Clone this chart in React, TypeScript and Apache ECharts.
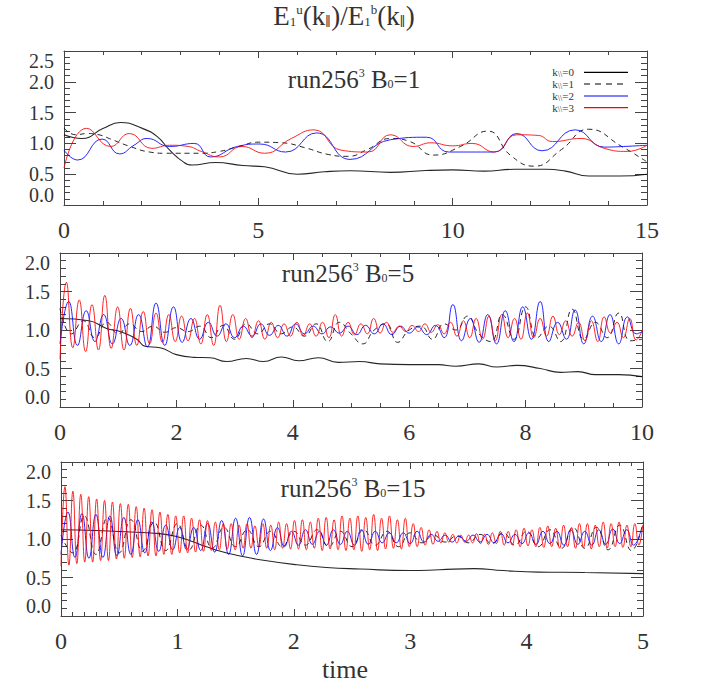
import React, { useEffect, useRef } from "react";
import * as echarts from "echarts";

const FONT = "'Liberation Serif', 'DejaVu Serif', serif";
const INK = "#333";

// ---------- Panel 1: run256^3 B0=1, time 0..15 ----------
const p1Solid: [number, number][] = [
  [0, 1.14], [0.46, 1.08], [1.0, 1.24], [1.45, 1.34], [2.03, 1.24], [2.4, 1.11], [2.72, 0.89],
  [3.07, 0.7], [3.3, 0.65], [3.9, 0.69], [4.6, 0.64], [5.16, 0.62], [6.0, 0.5], [6.7, 0.54],
  [7.36, 0.557], [8.4, 0.53], [9.3, 0.56], [10.0, 0.57], [10.8, 0.55], [11.6, 0.58], [12.4, 0.58],
  [12.9, 0.55], [13.5, 0.47], [14.3, 0.47], [15, 0.5],
];
const p1Dashed: [number, number][] = [
  [0, 1.25], [0.3, 1.14], [0.6, 1.16], [0.9, 1.14], [1.2, 1.07], [1.7, 0.95], [2.2, 0.86],
  [2.6, 0.84], [3.5, 0.84], [4.0, 0.87], [4.5, 0.95], [5.0, 1.02], [5.6, 1.01], [6.2, 0.93],
  [6.8, 0.82], [7.3, 0.79], [7.8, 0.9], [8.4, 1.08], [8.9, 1.03], [9.5, 0.81], [10.2, 0.95],
  [10.9, 1.2], [11.5, 0.8], [12.1, 0.63], [12.8, 0.9], [13.5, 1.23], [14.35, 0.95], [15, 0.7],
];
const p1Blue: [number, number][] = [
  [0, 0.89], [0.35, 0.73], [0.98, 1.07], [1.43, 0.83], [1.8, 0.97], [2.14, 1.08], [2.72, 0.95],
  [3.35, 1.0], [3.77, 0.78], [4.46, 0.95], [5.04, 0.99], [5.7, 0.86], [6.5, 1.17], [7.36, 0.74],
  [8.4, 1.06], [9.33, 1.1], [9.9, 0.86], [11.07, 0.86], [11.65, 1.16], [12.3, 0.88], [13.15, 1.22],
  [13.9, 0.94], [14.4, 0.95], [15, 0.97],
];
const p1Red: [number, number][] = [
  [0, 0.6], [0.58, 1.245], [1.2, 0.95], [1.68, 1.16], [2.26, 0.92], [2.72, 0.97], [3.2, 0.95],
  [3.53, 0.87], [4.0, 0.78], [4.58, 0.95], [5.16, 0.84], [5.85, 1.08], [6.43, 1.22], [7.13, 0.89],
  [7.82, 0.86], [8.4, 1.14], [8.98, 0.95], [9.44, 1.01], [10.0, 0.96], [10.5, 1.0], [11.07, 0.86],
  [11.65, 1.14], [12.2, 1.13], [12.57, 1.03], [13.3, 1.08], [13.9, 0.92], [14.5, 0.87], [15, 0.97],
];

// ---------- Panel 2: run256^3 B0=5, time 0..10 ----------
const p2Solid: [number, number][] = [
  [0, 1.15], [0.5, 1.12], [0.8, 1.02], [1.03, 0.98], [1.32, 0.88], [1.46, 0.79], [1.72, 0.77],
  [2.0, 0.68], [2.29, 0.645], [2.58, 0.64], [2.86, 0.59], [3.2, 0.63], [3.5, 0.59], [3.8, 0.65],
  [4.1, 0.6], [4.44, 0.64], [4.78, 0.58], [5.15, 0.59], [5.5, 0.56], [6.0, 0.55], [6.5, 0.55],
  [6.8, 0.53], [7.2, 0.56], [7.5, 0.52], [7.85, 0.54], [8.25, 0.5], [8.6, 0.45], [8.9, 0.46],
  [9.2, 0.42], [9.6, 0.42], [10, 0.395],
];
const p2DashedStep = 0.2;
const p2Dashed = [
  1.28, 0.95, 1.12, 0.9, 1.1, 0.95, 1.08, 0.98, 1.05, 0.97,
  1.03, 0.98, 1.05, 0.9, 1.06, 0.88, 1.08, 0.95, 1.08, 0.95,
  1.04, 0.92, 1.08, 0.85, 1.1, 0.95, 0.82, 1.0, 1.08, 0.84,
  1.0, 1.05, 0.88, 1.08, 1.0, 1.18, 0.95, 0.85, 1.2, 0.88,
  1.3, 0.9, 1.05, 0.85, 1.27, 0.88, 1.1, 0.9, 1.22, 0.86,
  0.88,
];
const p2BlueStep = 0.15;
const p2Blue = [
  0.82, 1.37, 0.8, 1.25, 0.85, 1.2,
  0.82, 1.15, 0.8, 1.2, 0.78, 1.35,
  0.8, 1.3, 0.84, 1.15, 0.88, 1.1,
  0.92, 1.08, 0.9, 1.05, 0.92, 1.08,
  0.93, 1.06, 0.92, 1.08, 0.95, 1.05,
  0.95, 1.04, 0.96, 1.05, 0.94, 1.06,
  0.95, 1.08, 0.94, 1.05, 0.96, 1.04,
  0.94, 1.06, 0.9, 1.33, 0.86, 1.15,
  0.84, 1.2, 0.82, 1.25, 0.85, 1.3,
  0.88, 1.37, 0.85, 1.1, 0.88, 1.26,
  0.82, 1.18, 0.85, 1.2, 0.82, 1.17,
  0.95, 1.0,
];
const p2RedStep = 0.11;
const p2Red = [
  0.62, 1.62, 0.77, 1.39, 0.72, 1.33,
  0.74, 1.45, 0.76, 1.3, 0.74, 1.28,
  0.8, 1.24, 0.82, 1.22, 0.84, 1.2,
  0.85, 1.18, 0.86, 1.15, 0.82, 1.2,
  0.8, 1.32, 0.85, 1.2, 0.88, 1.15,
  0.9, 1.12, 0.88, 1.1, 0.9, 1.08,
  0.92, 1.1, 0.93, 1.08, 0.92, 1.1,
  0.9, 1.2, 0.92, 1.1, 0.94, 1.08,
  0.95, 1.15, 0.96, 1.1, 0.97, 1.05,
  0.98, 1.06, 0.98, 1.08, 0.97, 1.07,
  0.95, 1.1, 0.92, 1.12, 0.9, 1.15,
  0.88, 1.18, 0.86, 1.2, 0.9, 1.15,
  0.88, 1.22, 0.9, 1.15, 0.92, 1.18,
  0.94, 1.12, 0.92, 1.1, 0.86, 1.12,
  0.85, 1.17, 0.96, 1.1, 0.9, 1.15,
  0.87, 1.0,
];

// ---------- Panel 3: run256^3 B0=15, time 0..5 ----------
const p3Solid: [number, number][] = [
  [0, 1.12], [0.3, 1.11], [0.6, 1.09], [0.85, 1.07], [1.0, 1.03], [1.14, 0.96], [1.25, 0.9],
  [1.37, 0.84], [1.54, 0.78], [1.71, 0.73], [2.0, 0.67], [2.28, 0.63], [2.57, 0.61], [3.0, 0.59],
  [3.25, 0.6], [3.55, 0.615], [3.8, 0.59], [4.1, 0.57], [4.5, 0.565], [5.0, 0.55],
];
const p3DashedStep = 0.1;
const p3Dashed = [
  1.05, 0.82, 1.3, 0.8, 1.28, 0.82, 1.25, 0.84, 1.22, 0.85,
  1.2, 0.86, 1.18, 0.88, 1.15, 0.9, 1.12, 0.9, 1.1, 0.9,
  1.1, 0.92, 1.12, 0.9, 1.1, 0.9, 1.12, 0.92, 1.1, 0.9,
  1.08, 0.95, 1.05, 0.96, 1.04, 0.95, 1.06, 0.94, 1.08, 0.92,
  1.1, 0.9, 1.12, 0.88, 1.15, 0.88, 1.15, 0.86, 1.18, 0.85,
  1.22,
];
const p3BlueStep = 0.06;
const p3Blue = [
  0.8, 1.35, 0.76, 1.33, 0.75, 1.32,
  0.76, 1.3, 0.78, 1.28, 0.8, 1.25,
  0.82, 1.22, 0.84, 1.18, 0.86, 1.15,
  0.86, 1.15, 0.85, 1.2, 0.83, 1.24,
  0.8, 1.27, 0.78, 1.28, 0.8, 1.26,
  0.85, 1.15, 0.9, 1.1, 0.92, 1.12,
  0.93, 1.1, 0.92, 1.12, 0.93, 1.1,
  0.92, 1.12, 0.93, 1.1, 0.95, 1.08,
  0.95, 1.08, 0.94, 1.1, 0.96, 1.06,
  0.97, 1.05, 0.96, 1.04, 0.97, 1.05,
  0.96, 1.06, 0.95, 1.07, 0.95, 1.06,
  0.94, 1.08, 0.93, 1.1, 0.94, 1.1,
  0.92, 1.12, 0.93, 1.1, 0.92, 1.12,
  0.93, 1.13, 0.94, 1.12, 0.92, 1.1,
];
const p3RedStep = 0.034;
const p3Red = [
  0.65, 1.68, 0.66, 1.62, 0.68, 1.58,
  0.7, 1.55, 0.7, 1.52, 0.72, 1.5,
  0.72, 1.48, 0.74, 1.46, 0.75, 1.45,
  0.76, 1.42, 0.77, 1.4, 0.78, 1.38,
  0.78, 1.35, 0.8, 1.32, 0.8, 1.3,
  0.82, 1.3, 0.82, 1.27, 0.83, 1.25,
  0.84, 1.24, 0.85, 1.22, 0.86, 1.2,
  0.87, 1.2, 0.86, 1.18, 0.88, 1.2,
  0.88, 1.17, 0.9, 1.2, 0.88, 1.18,
  0.86, 1.22, 0.88, 1.2, 0.87, 1.24,
  0.87, 1.25, 0.86, 1.22, 0.88, 1.27,
  0.85, 1.28, 0.87, 1.25, 0.86, 1.3,
  0.85, 1.27, 0.86, 1.3, 0.84, 1.28,
  0.86, 1.32, 0.85, 1.27, 0.87, 1.3,
  0.88, 1.25, 0.87, 1.27, 0.9, 1.2,
  0.9, 1.15, 0.92, 1.12, 0.93, 1.1,
  0.95, 1.08, 0.96, 1.06, 0.95, 1.05,
  0.96, 1.05, 0.95, 1.07, 0.94, 1.06,
  0.93, 1.08, 0.94, 1.1, 0.92, 1.1,
  0.92, 1.12, 0.9, 1.14, 0.91, 1.12,
  0.9, 1.15, 0.89, 1.17, 0.9, 1.14,
  0.88, 1.18, 0.9, 1.15, 0.88, 1.2,
  0.89, 1.2, 0.87, 1.18, 0.9, 1.22,
  0.88, 1.2, 0.9, 1.22, 0.89, 1.18,
  0.9, 1.2, 0.92, 1.18,
];

const legendLabels = ["0", "1", "2", "3"];
const seriesColors = ["#000000", "#000000", "#0000ff", "#ff0000"];
const panelNames = ["1", "5", "15"];
const xMax = [15, 10, 5];
const xInterval = [5, 2, 1];
const xMinorSplit = [5, 4, 10];
const yMax = [2.5, 2, 2];

const stepped = (vals: number[], step: number): [number, number][] =>
  vals.map((v, i) => [Math.round(i * step * 10000) / 10000, v]);

export default function App() {
  const ref = useRef<HTMLDivElement>(null);

  useEffect(() => {
    if (!ref.current) return;
    const chart = echarts.init(ref.current, undefined, { renderer: "svg" });

    const rects = [
      { left: 64, top: 51, width: 583, height: 154 },
      { left: 60, top: 253, width: 582, height: 154 },
      { left: 61, top: 462, width: 582, height: 154 },
    ];

    const panelData: [number, number][][][] = [
      [p1Solid, p1Dashed, p1Blue, p1Red],
      [p2Solid, stepped(p2Dashed, p2DashedStep), stepped(p2Blue, p2BlueStep), stepped(p2Red, p2RedStep)],
      [p3Solid, stepped(p3Dashed, p3DashedStep), stepped(p3Blue, p3BlueStep), stepped(p3Red, p3RedStep)],
    ];

    const tickColor = "#444";
    const X_MAJOR = 7;
    const X_MINOR = 4;
    const Y_MAJOR = 12;
    const Y_MINOR = 6;

    const grids: any[] = [];
    const xAxes: any[] = [];
    const yAxes: any[] = [];
    const mainX: number[] = [];
    const mainY: number[] = [];

    const xBase = (g: number, gi: number) => ({
      type: "value",
      gridIndex: gi,
      min: 0,
      max: xMax[g],
      interval: xInterval[g],
      splitLine: { show: false },
    });
    const yBase = (g: number, gi: number) => ({
      type: "value",
      gridIndex: gi,
      min: 0,
      max: yMax[g],
      interval: 0.5,
      splitLine: { show: false },
    });
    const hiddenAxis = (gi: number) => ({ type: "value", gridIndex: gi, show: false, min: 0, max: 1 });
    const yLabelStyle = {
      margin: 10,
      fontFamily: FONT,
      fontSize: 20,
      lineHeight: 20,
      color: INK,
    };
    const labelOnlyAxis = (g: number, gi: number, label: any) => ({
      ...yBase(g, gi),
      position: "left",
      axisLine: { show: false, onZero: false },
      axisTick: { show: false },
      minorTick: { show: false },
      axisLabel: { ...yLabelStyle, show: true, showMinLabel: true, showMaxLabel: true, ...label },
    });

    rects.forEach((r, g) => {
      // ----- main grid: frame + labels + data -----
      const gm = grids.length;
      grids.push({ ...r });
      ["bottom", "top"].forEach((pos) => {
        if (pos === "bottom") mainX[g] = xAxes.length;
        xAxes.push({
          ...xBase(g, gm),
          position: pos,
          axisLine: { show: true, onZero: false, lineStyle: { color: tickColor, width: 1 } },
          axisTick: { show: false },
          minorTick: { show: false },
          axisLabel: {
            show: pos === "bottom",
            margin: 13,
            fontFamily: FONT,
            fontSize: 24,
            color: INK,
            showMinLabel: true,
            showMaxLabel: true,
            formatter: (v: number) => String(v),
          },
        });
      });
      ["left", "right"].forEach((pos) => {
        if (pos === "left") mainY[g] = yAxes.length;
        yAxes.push({
          ...yBase(g, gm),
          position: pos,
          axisLine: { show: true, onZero: false, lineStyle: { color: tickColor, width: 1 } },
          axisTick: { show: false },
          minorTick: { show: false },
          axisLabel: {
            ...yLabelStyle,
            show: pos === "left",
            showMinLabel: false,
            showMaxLabel: false,
            formatter: (v: number) => v.toFixed(1),
          },
        });
      });
      // end labels, kept inside the frame as in the reference
      yAxes.push(
        labelOnlyAxis(g, gm, {
          verticalAlignMaxLabel: "top",
          formatter: (v: number) => (v === yMax[g] ? v.toFixed(1) : ""),
        })
      );
      yAxes.push(
        labelOnlyAxis(g, gm, {
          verticalAlignMinLabel: "bottom",
          formatter: (v: number) => (v === 0 ? v.toFixed(1) : ""),
        })
      );

      // ----- helper grids: inward ticks drawn as outward ticks from inset grids -----
      const yTickGrid = (inset: number, withMinor: boolean) => {
        const gi = grids.length;
        grids.push({ left: r.left + inset, top: r.top, width: r.width - 2 * inset, height: r.height });
        xAxes.push(hiddenAxis(gi));
        ["left", "right"].forEach((pos) => {
          yAxes.push({
            ...yBase(g, gi),
            position: pos,
            axisLine: { show: false, onZero: false },
            axisTick: { show: true, inside: false, length: inset, lineStyle: { color: tickColor } },
            minorTick: { show: withMinor, splitNumber: 5, length: inset, lineStyle: { color: tickColor } },
            axisLabel: { show: false },
          });
        });
      };
      const xTickGrid = (inset: number, withMinor: boolean) => {
        const gi = grids.length;
        grids.push({ left: r.left, top: r.top + inset, width: r.width, height: r.height - 2 * inset });
        yAxes.push(hiddenAxis(gi));
        ["bottom", "top"].forEach((pos) => {
          xAxes.push({
            ...xBase(g, gi),
            position: pos,
            axisLine: { show: false, onZero: false },
            axisTick: { show: true, inside: false, length: inset, lineStyle: { color: tickColor } },
            minorTick: { show: withMinor, splitNumber: xMinorSplit[g], length: inset, lineStyle: { color: tickColor } },
            axisLabel: { show: false },
          });
        });
      };
      yTickGrid(Y_MAJOR, false);
      yTickGrid(Y_MINOR, true);
      xTickGrid(X_MAJOR, false);
      xTickGrid(X_MINOR, true);
    });

    const series: any[] = [];
    panelData.forEach((set, g) => {
      set.forEach((data, k) => {
        series.push({
          type: "line",
          name: `k${legendLabels[k]}-${g}`,
          xAxisIndex: mainX[g],
          yAxisIndex: mainY[g],
          data,
          showSymbol: false,
          symbol: "none",
          smooth: 0.5,
          clip: true,
          lineStyle: {
            color: seriesColors[k],
            width: k === 0 ? 1.1 : 1,
            type: k === 1 ? [5, 4] : "solid",
            opacity: 0.85,
          },
          z: 2 + k,
        });
      });
    });

    const mkRich = (big: number, small: number, subPad: number, supPad: number) => ({
      m: { fontSize: big, fontFamily: FONT, fill: INK, color: INK },
      sub: { fontSize: small, fontFamily: FONT, fill: INK, color: INK, padding: [subPad, 0, 0, 0] },
      sup: { fontSize: small, fontFamily: FONT, fill: INK, color: INK, padding: [0, 0, supPad, 0] },
    });
    const titleRich = mkRich(27, 13, 11, 13);
    const annRich = mkRich(25, 12, 10, 12);
    const legRich = {
      m: { fontSize: 11, lineHeight: 10, fontFamily: FONT, fill: INK, color: INK },
      sub: { fontSize: 8, lineHeight: 10, fontFamily: FONT, fill: INK, color: INK, padding: [4, 0, 0, 0] },
    };

    const textEl = (x: number, y: number, text: string, rich: any) => ({
      type: "text",
      x,
      y,
      style: {
        text,
        rich,
        align: "center",
        verticalAlign: "middle",
        textAlign: "center",
        textVerticalAlign: "middle",
        fill: INK,
      },
    });

    const annPos = [
      [354, 79],
      [348, 273],
      [353, 488],
    ];

    const graphic: any[] = [
      textEl(
        344,
        16,
        "{m|E}{sub|1}{sup|u}{m|(k}{sub|\u2225}{m|)/E}{sub|1}{sup|b}{m|(k}{sub|\u2225}{m|)}",
        titleRich
      ),
      ...panelNames.map((b, g) =>
        textEl(annPos[g][0], annPos[g][1], `{m|run256}{sup|3}{m| B}{sub|0}{m|=${b}}`, annRich)
      ),
      textEl(345, 669, "{m|time}", { m: { fontSize: 26, fontFamily: FONT, fill: INK, color: INK } }),
    ];

    const legY = [72.3, 84, 96, 107.7];
    legendLabels.forEach((lab, k) => {
      graphic.push({
        type: "text",
        x: 574,
        y: legY[k],
        style: {
          text: `{m|k}{sub|\\\\}{m|=${lab}}`,
          rich: legRich,
          align: "right",
          verticalAlign: "middle",
          textAlign: "right",
          textVerticalAlign: "middle",
          fill: INK,
        },
      });
      graphic.push({
        type: "line",
        shape: { x1: 584, y1: legY[k], x2: 628, y2: legY[k] },
        style: {
          stroke: seriesColors[k],
          lineWidth: 1.2,
          lineDash: k === 1 ? [6, 5] : null,
        },
      });
    });

    chart.setOption({
      animation: false,
      backgroundColor: "#ffffff",
      grid: grids,
      xAxis: xAxes,
      yAxis: yAxes,
      series,
      graphic,
    });

    return () => chart.dispose();
  }, []);

  return (
    <div
      ref={ref}
      style={{ position: "fixed", left: 0, top: 0, width: 702, height: 690, background: "#fff" }}
    />
  );
}
